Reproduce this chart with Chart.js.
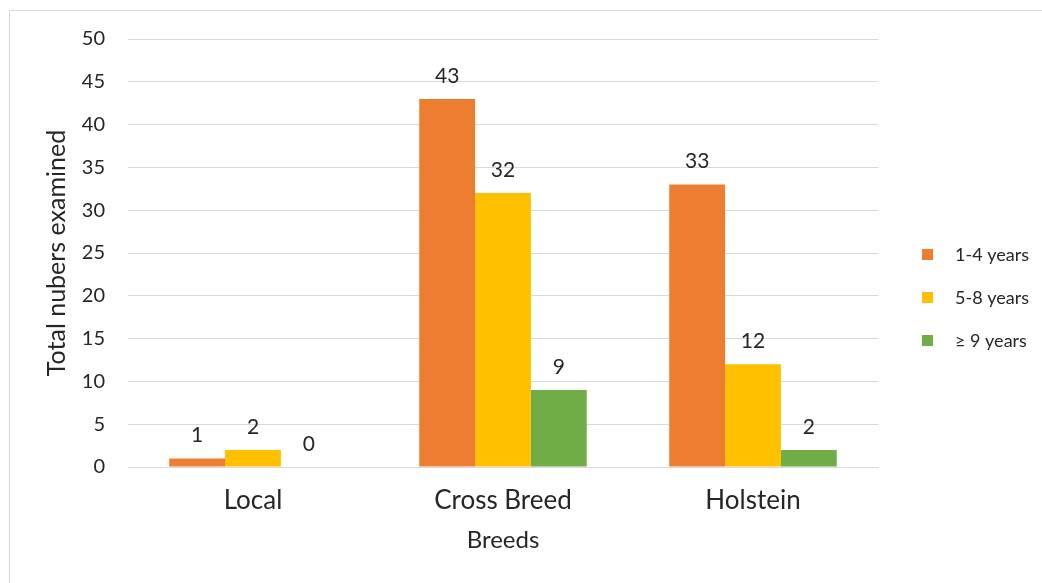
<!DOCTYPE html>
<html>
<head>
<meta charset="utf-8">
<title>Total numbers examined by breed and age</title>
<script src="https://cdn.jsdelivr.net/npm/chart.js@4.4.1/dist/chart.umd.min.js"></script>
<style>
  html, body { margin: 0; padding: 0; background: #fff; }
  #wrap { width: 1042px; height: 583px; position: relative; }
</style>
</head>
<body>
<div id="wrap"><canvas id="chart" width="1042" height="583"></canvas></div>
<script>
// breeds on the x axis
const breeds = ['Local', 'Cross Breed', 'Holstein'];

// age groups, one series each
const ageGroups = ['1-4 years', '5-8 years', '\u2265 9 years'];
const age1to4 = [1, 43, 33];
const age5to8 = [2, 32, 12];
const age9plus = [0, 9, 2];

const yTicks = [0, 5, 10, 15, 20, 25, 30, 35, 40, 45, 50];

const colors = ['#ED7D31', '#FFC000', '#70AD47'];
const textColor = '#262626';
const fontFamily = 'Lato, "Open Sans", sans-serif';

// thin grey frame around the whole chart
const framePlugin = {
    id: 'frame',
    beforeDraw(chart) {
        const ctx = chart.ctx;
        ctx.save();
        ctx.fillStyle = '#fff';
        ctx.fillRect(0, 0, chart.width, chart.height);
        ctx.strokeStyle = '#d9d9d9';
        ctx.lineWidth = 1;
        ctx.strokeRect(9.5, 10.5, 1200, 700);
        ctx.restore();
    }
};

// value above each bar
const valueLabels = {
    id: 'valueLabels',
    afterDatasetsDraw(chart) {
        const ctx = chart.ctx;
        ctx.save();
        ctx.font = '21px ' + fontFamily;
        ctx.fillStyle = textColor;
        ctx.textAlign = 'center';
        ctx.textBaseline = 'middle';
        chart.data.datasets.forEach((ds, i) => {
            chart.getDatasetMeta(i).data.forEach((bar, j) => {
                ctx.fillText(String(ds.data[j]), bar.x, bar.y - 23);
            });
        });
        ctx.restore();
    }
};

// legend on the right, square swatches
const sideLegend = {
    id: 'sideLegend',
    afterDraw(chart) {
        const ctx = chart.ctx;
        const x = 922, firstY = 255, step = 43;
        ctx.save();
        ctx.font = '18px ' + fontFamily;
        ctx.textAlign = 'left';
        ctx.textBaseline = 'middle';
        chart.data.datasets.forEach((ds, i) => {
            const y = firstY + i * step;
            ctx.fillStyle = ds.backgroundColor;
            ctx.fillRect(x, y - 6, 11, 11);
            ctx.fillStyle = textColor;
            ctx.fillText(ds.label, x + 33, y);
        });
        ctx.restore();
    }
};

const seriesData = [age1to4, age5to8, age9plus];

new Chart(document.getElementById('chart'), {
    type: 'bar',
    data: {
        labels: breeds,
        datasets: ageGroups.map((name, i) => ({
            label: name,
            data: seriesData[i],
            backgroundColor: colors[i],
            borderWidth: 0,
            categoryPercentage: 0.67,
            barPercentage: 1.0
        }))
    },
    options: {
        responsive: false,
        animation: false,
        layout: { padding: { top: 39, right: 164, bottom: 28, left: 42 } },
        plugins: {
            legend: { display: false },
            tooltip: { enabled: false }
        },
        scales: {
            x: {
                afterFit: (scale) => { scale.height = 88; },
                grid: { display: false, drawTicks: false },
                border: { color: '#d9d9d9', width: 1 },
                ticks: { color: textColor, font: { family: fontFamily, size: 26 }, padding: 18 },
                title: {
                    display: true, text: 'Breeds', color: textColor,
                    font: { family: fontFamily, size: 24 }, padding: { top: 0, bottom: 0 }
                }
            },
            y: {
                min: 0,
                max: 50,
                afterFit: (scale) => { scale.width = 86; },
                afterBuildTicks: (scale) => { scale.ticks = yTicks.map(v => ({ value: v })); },
                grid: { color: '#d9d9d9', lineWidth: 1, drawTicks: false },
                border: { display: false },
                ticks: { color: textColor, font: { family: fontFamily, size: 20 }, padding: 23 },
                title: {
                    display: true, text: 'Total nubers examined', color: textColor,
                    font: { family: fontFamily, size: 25 }, padding: { top: 0, bottom: 0 }
                }
            }
        }
    },
    plugins: [framePlugin, valueLabels, sideLegend]
});
</script>
</body>
</html>
